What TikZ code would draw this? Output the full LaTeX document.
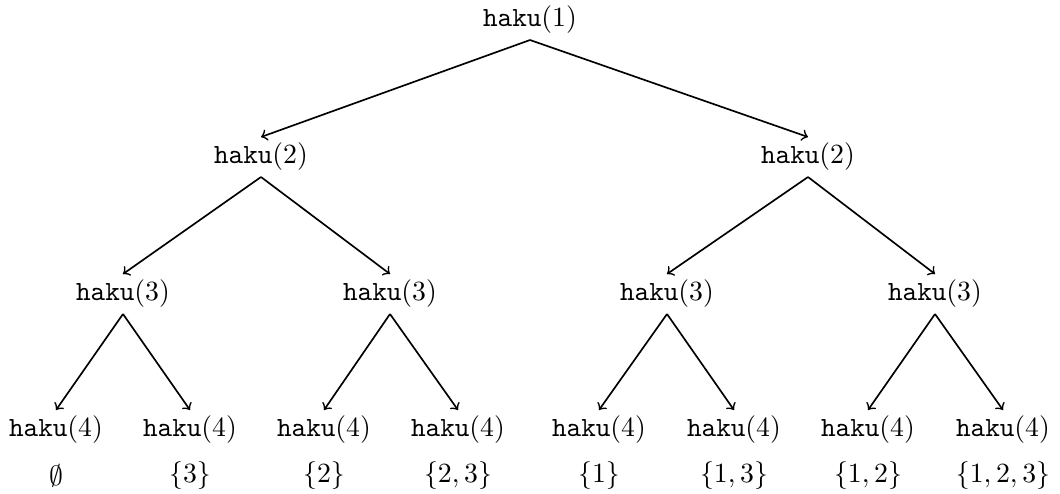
\documentclass[tikz,border=0pt]{standalone}
\begin{document}
\begin{tikzpicture}[x=0.36pt,y=-0.36pt,
  hk/.style={inner sep=2pt},
  setlbl/.style={inner sep=2pt},
  edge/.style={->,line width=0.6pt}]
\useasboundingbox (0,0) rectangle (1060,493);
\node[hk] (r) at (530,20) {\texttt{haku}(1)};
\node[hk] (a) at (261,157) {\texttt{haku}(2)};
\node[hk] (b) at (808,157) {\texttt{haku}(2)};
\node[hk] (a1) at (123,294) {\texttt{haku}(3)};
\node[hk] (a2) at (390,294) {\texttt{haku}(3)};
\node[hk] (b1) at (667,294) {\texttt{haku}(3)};
\node[hk] (b2) at (935,294) {\texttt{haku}(3)};
\node[hk] (l1) at (56,430) {\texttt{haku}(4)};
\node[hk] (l2) at (190,430) {\texttt{haku}(4)};
\node[hk] (l3) at (324,430) {\texttt{haku}(4)};
\node[hk] (l4) at (458,430) {\texttt{haku}(4)};
\node[hk] (l5) at (599,430) {\texttt{haku}(4)};
\node[hk] (l6) at (734,430) {\texttt{haku}(4)};
\node[hk] (l7) at (868,430) {\texttt{haku}(4)};
\node[hk] (l8) at (1003,430) {\texttt{haku}(4)};
\node[setlbl] (s1) at (56,476) {$\emptyset$};
\node[setlbl] (s2) at (190,476) {$\{3\}$};
\node[setlbl] (s3) at (324,476) {$\{2\}$};
\node[setlbl] (s4) at (458,476) {$\{2,3\}$};
\node[setlbl] (s5) at (599,476) {$\{1\}$};
\node[setlbl] (s6) at (734,476) {$\{1,3\}$};
\node[setlbl] (s7) at (868,476) {$\{1,2\}$};
\node[setlbl] (s8) at (1003,476) {$\{1,2,3\}$};
\foreach \p/\c in {r/a,r/b,a/a1,a/a2,b/b1,b/b2,a1/l1,a1/l2,a2/l3,a2/l4,b1/l5,b1/l6,b2/l7,b2/l8}
  \draw[edge] (\p.south) -- (\c.north);
\end{tikzpicture}
\end{document}
